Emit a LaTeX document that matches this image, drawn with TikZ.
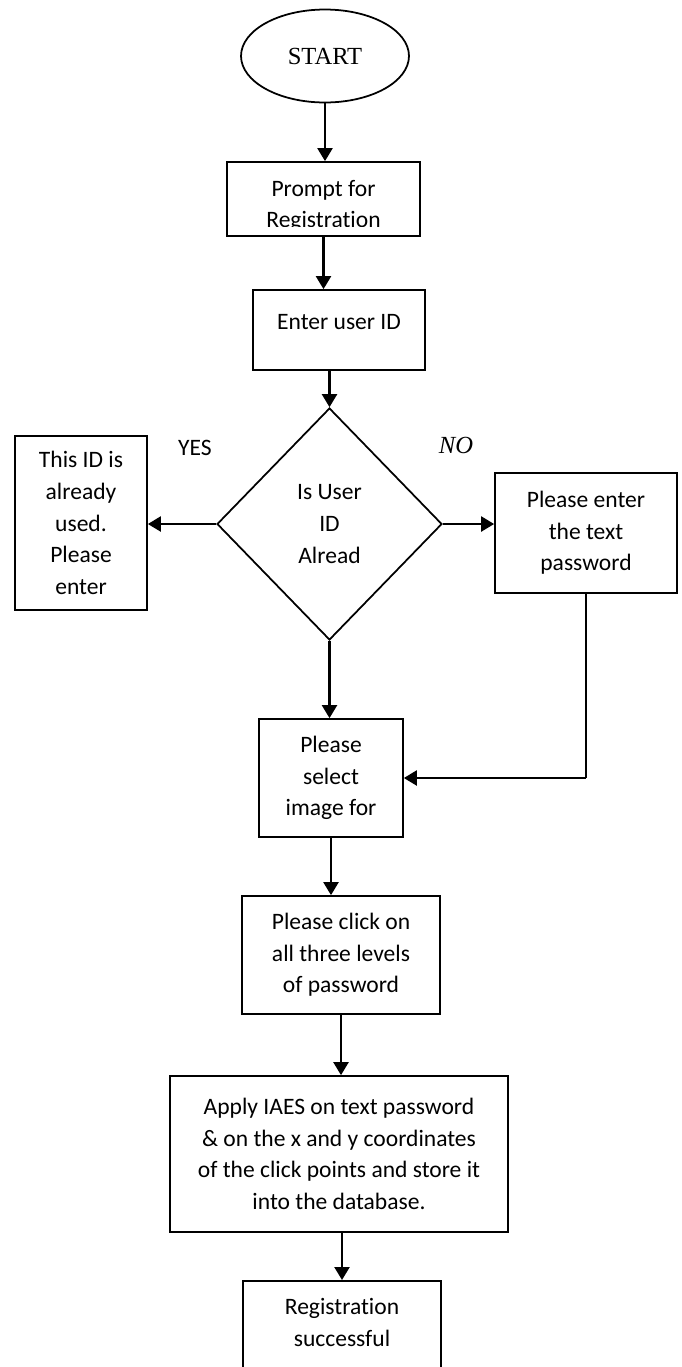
\documentclass[tikz,border=0pt]{standalone}
\usepackage{fontspec}
\setmainfont{Carlito}[Ligatures=NoCommon]
\newfontfamily\timesfont{Liberation Serif}
\usetikzlibrary{shapes.geometric}
\usetikzlibrary{arrows.meta}
\tikzset{
	box/.style={draw, line width=1pt, rectangle, inner sep=0pt, align=center},
	flowarrow/.style={line width=1.3pt, -{Triangle[length=2.6mm,width=3mm]}},
	serif/.style={font=\timesfont\fontsize{14}{16}\selectfont}
}

\begin{document}
\begin{tikzpicture}[x=0.02cm,y=-0.02cm,font=\fontsize{13.4}{18}\selectfont]
	\useasboundingbox (0,0) rectangle (682,1367);
	\clip (0,0) rectangle (682,1367);
	\node[draw, ellipse, line width=1pt, minimum width=3.36cm, minimum height=1.86cm, serif] (start) at (325,56) {START};
	\node[box, minimum width=3.86cm, minimum height=1.48cm] (prompt) at (323.5,199) {};
	\begin{scope}
	\clip (227,162) rectangle (420,226);
	\node[align=center, inner sep=0pt] (prompttext) at (323.5,206) {Prompt for\\Registration};%cut off
	\end{scope}
	\node[box, minimum width=3.44cm, minimum height=1.6cm, text depth=0.32cm] (enter) at (339,330) {Enter user ID};
	\node[draw, diamond, line width=1pt, minimum width=4.5cm, minimum height=4.64cm, inner sep=0pt, align=center] (dia) at (329.5,524) {Is User\\ID\\Alread};
	\node[box, minimum width=2.64cm, minimum height=3.48cm] (used) at (81,523) {This ID is\\already\\used.\\Please\\enter};
	\node[box, minimum width=3.64cm, minimum height=2.4cm] (pwd) at (586,533) {Please enter\\the text\\password};
	\node[box, minimum width=2.88cm, minimum height=2.36cm] (image) at (331,778) {Please\\select\\image for};
	\node[box, minimum width=3.96cm, minimum height=2.36cm] (click) at (341,955) {Please click on\\all three levels\\of password};
	\node[box, minimum width=6.76cm, minimum height=3.12cm] (apply) at (339,1154) {Apply IAES on text password\\\& on the x and y coordinates\\of the click points and store it\\into the database.};
	\node[box, minimum width=3.96cm, anchor=north, inner ysep=0.35cm, text depth=2.5cm] (reg) at (342,1280) {Registration\\successful};%runs off the page
	\node (yes) at (195,448) {YES};
	\node[font=\timesfont\itshape\fontsize{14}{16}\selectfont] (no) at (456,445) {NO};
	\draw[flowarrow] (start) -- (start |- prompt.north);
	\draw[flowarrow] (prompt.south) -- (prompt.south |- enter.north);
	\draw[flowarrow] (dia.north |- enter.south) -- (dia.north);
	\draw[flowarrow] (dia.west) -- (used.east |- dia.west);%yes
	\draw[flowarrow] (dia.east) -- (pwd.west |- dia.east);%no
	\draw[flowarrow] (dia.south) -- (dia.south |- image.north);
	\coordinate (bend) at (pwd.south |- image.east);
	\draw[line width=0.6pt] (pwd.south) -- (bend);
	\draw[flowarrow] (bend) -- (image.east);
	\draw[flowarrow] (image.south) -- (image.south |- click.north);
	\draw[flowarrow] (click.south) -- (click.south |- apply.north);
	\draw[flowarrow] (reg.north |- apply.south) -- (reg.north);
\end{tikzpicture}
\end{document}
